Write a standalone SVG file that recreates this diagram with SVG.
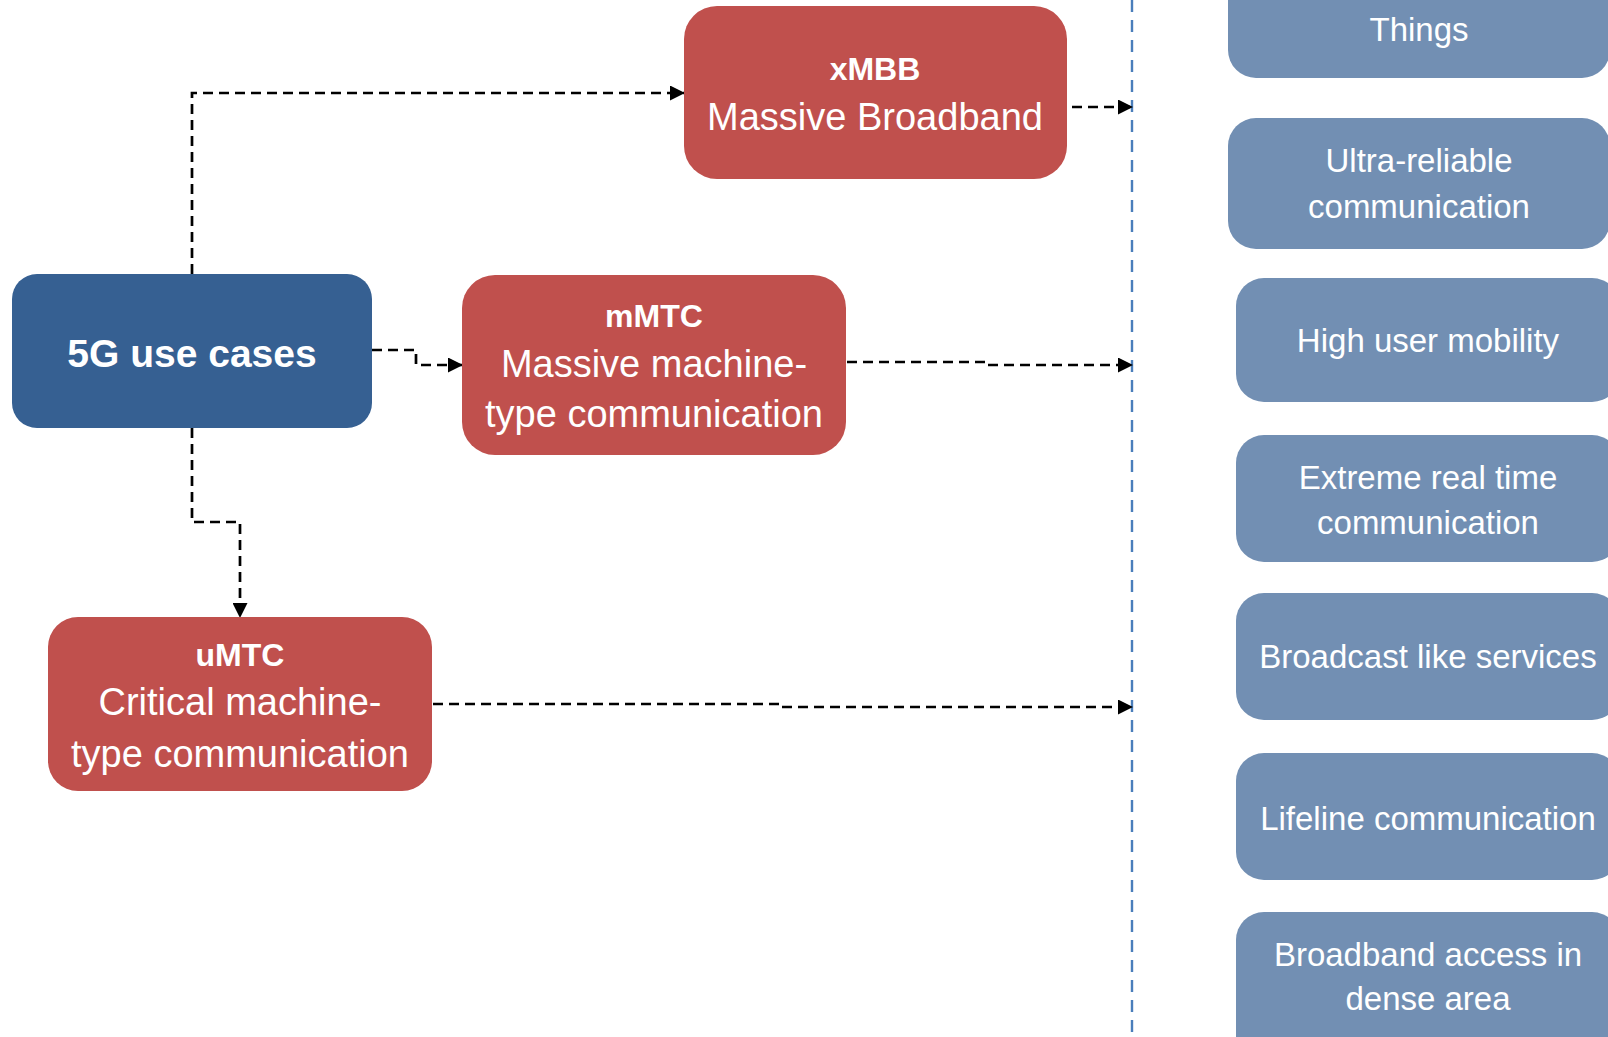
<svg xmlns="http://www.w3.org/2000/svg" width="1608" height="1037" viewBox="0 0 1608 1037">
<style>
.t{font-family:"Liberation Sans",Arial,sans-serif;fill:#fff;text-anchor:middle}
.b{font-weight:bold}
.red{fill:#c0504d}
.dark{fill:#366092}
.lb{fill:#728fb3}
.con{fill:none;stroke:#000;stroke-width:2.7;stroke-dasharray:10 6}
.sep{fill:none;stroke:#4a7ebb;stroke-width:2.4;stroke-dasharray:12 8}
</style>
<defs>
<marker id="ah" markerUnits="userSpaceOnUse" markerWidth="15" markerHeight="15" refX="14" refY="7.5" orient="auto">
<path d="M0,0 L15,7.5 L0,15 Z" fill="#000"/>
</marker>
</defs>
<line class="sep" x1="1132" y1="0" x2="1132" y2="1037"/>
<g id="connectors">
<path class="con" d="M192,274 V93 H684" marker-end="url(#ah)"/>
<path class="con" d="M372,350 H416 V365 H462" marker-end="url(#ah)"/>
<path class="con" d="M192,428 V522 H240 V617" marker-end="url(#ah)"/>
<path class="con" d="M1072,107 H1132" marker-end="url(#ah)"/>
<path class="con" d="M847,362 H985 V365 H1132" marker-end="url(#ah)"/>
<path class="con" d="M433,704 H781 V707 H1132" marker-end="url(#ah)"/>
</g>
<g id="n5g">
<rect class="dark" x="12" y="274" width="360" height="154" rx="25"/>
<text class="t b" x="192" y="367" font-size="39">5G use cases</text>
</g>
<g id="xmbb">
<rect class="red" x="684" y="6" width="383" height="173" rx="33"/>
<text class="t b" x="875" y="80" font-size="32">xMBB</text>
<text class="t" x="875" y="130" font-size="38">Massive Broadband</text>
</g>
<g id="mmtc">
<rect class="red" x="462" y="275" width="384" height="180" rx="33"/>
<text class="t b" x="654" y="327" font-size="32">mMTC</text>
<text class="t" x="654" y="377" font-size="38">Massive machine-</text>
<text class="t" x="654" y="427" font-size="38">type communication</text>
</g>
<g id="umtc">
<rect class="red" x="48" y="617" width="384" height="174" rx="30"/>
<text class="t b" x="240" y="666" font-size="32">uMTC</text>
<text class="t" x="240" y="715" font-size="38">Critical machine-</text>
<text class="t" x="240" y="767" font-size="38">type communication</text>
</g>
<g id="things">
<rect class="lb" x="1228" y="-55" width="382" height="133" rx="28"/>
<text class="t" x="1419" y="41" font-size="33">Things</text>
</g>
<g id="ultra">
<rect class="lb" x="1228" y="118" width="382" height="131" rx="28"/>
<text class="t" x="1419" y="172" font-size="33">Ultra-reliable</text>
<text class="t" x="1419" y="218" font-size="33">communication</text>
</g>
<g id="mobility">
<rect class="lb" x="1236" y="278" width="384" height="124" rx="28"/>
<text class="t" x="1428" y="352" font-size="33">High user mobility</text>
</g>
<g id="realtime">
<rect class="lb" x="1236" y="435" width="384" height="127" rx="28"/>
<text class="t" x="1428" y="489" font-size="33">Extreme real time</text>
<text class="t" x="1428" y="534" font-size="33">communication</text>
</g>
<g id="broadcast">
<rect class="lb" x="1236" y="593" width="384" height="127" rx="28"/>
<text class="t" x="1428" y="668" font-size="33">Broadcast like services</text>
</g>
<g id="lifeline">
<rect class="lb" x="1236" y="753" width="384" height="127" rx="28"/>
<text class="t" x="1428" y="830" font-size="33">Lifeline communication</text>
</g>
<g id="dense">
<rect class="lb" x="1236" y="912" width="384" height="160" rx="28"/>
<text class="t" x="1428" y="966" font-size="33">Broadband access in</text>
<text class="t" x="1428" y="1010" font-size="33">dense area</text>
</g>
</svg>
